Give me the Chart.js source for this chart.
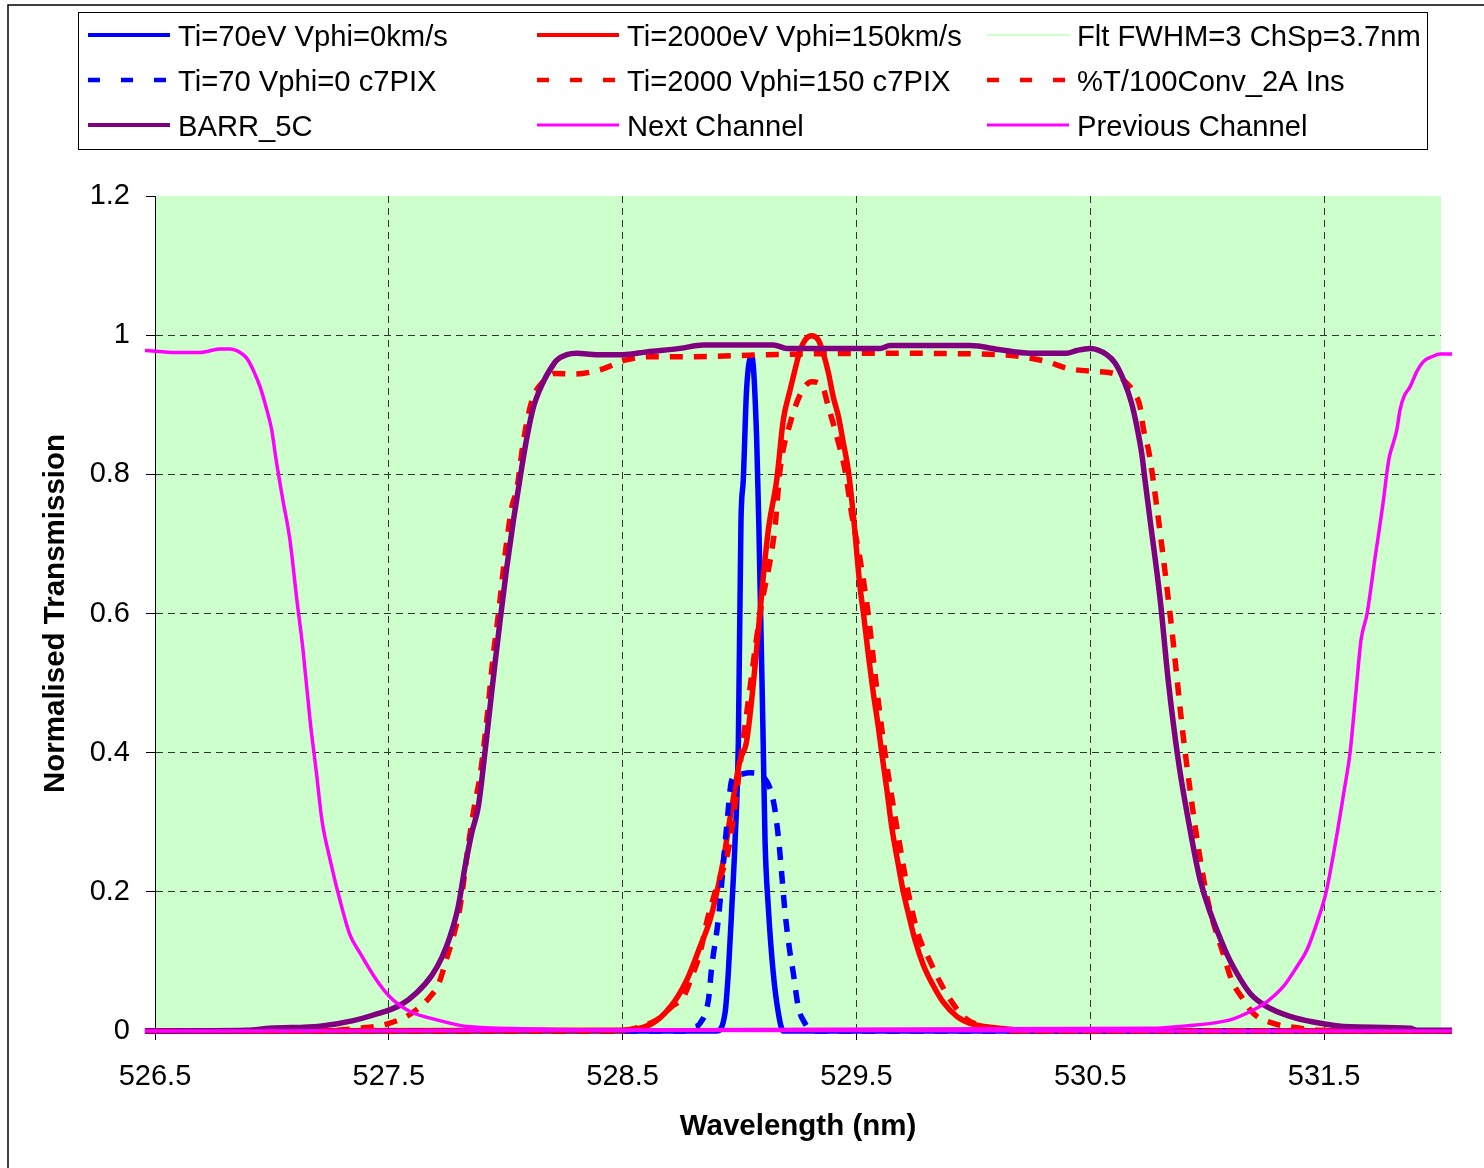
<!DOCTYPE html>
<html><head><meta charset="utf-8">
<script src="https://cdn.jsdelivr.net/npm/chart.js@4"></script>
<style>html,body{margin:0;padding:0;background:#fff;}canvas{display:block;}</style>
</head><body>
<canvas id="c" width="1484" height="1168"></canvas>
<script>
// ---------- data (wavelength nm, normalised transmission) ----------
const xTicks = [526.5, 527.5, 528.5, 529.5, 530.5, 531.5];
const yTicks = [0, 0.2, 0.4, 0.6, 0.8, 1.0, 1.2];

const ti70X = [526.457, 528.902, 528.938, 528.952, 528.967, 528.981, 528.995, 529.006, 529.016, 529.030, 529.052, 529.073, 529.083, 529.101, 529.109, 529.123, 529.144, 529.166, 529.187, 532.047];
const ti70Y = [0, 0, 0.026, 0.084, 0.178, 0.274, 0.417, 0.730, 0.792, 0.921, 0.970, 0.854, 0.720, 0.417, 0.274, 0.178, 0.084, 0.026, 0, 0];

const ti2000X = [526.457, 528.468, 528.617, 528.703, 528.774, 528.831, 528.874, 528.902, 528.931, 528.967, 529.002, 529.031, 529.123, 529.159, 529.187, 529.216, 529.237, 529.259, 529.280, 529.309, 529.337, 529.358, 529.380, 529.401, 529.423, 529.444, 529.465, 529.487, 529.515, 529.530, 529.551, 529.572, 529.594, 529.608, 529.630, 529.651, 529.679, 529.701, 529.722, 529.751, 529.786, 529.829, 529.872, 529.929, 529.986, 530.057, 530.143, 530.243, 532.047];
const ti2000Y = [0, 0.001, 0.009, 0.034, 0.073, 0.121, 0.160, 0.198, 0.246, 0.322, 0.389, 0.418, 0.720, 0.792, 0.878, 0.921, 0.950, 0.978, 0.993, 0.999, 0.993, 0.974, 0.946, 0.911, 0.883, 0.845, 0.806, 0.740, 0.639, 0.600, 0.540, 0.486, 0.436, 0.400, 0.347, 0.293, 0.239, 0.199, 0.169, 0.130, 0.095, 0.065, 0.041, 0.021, 0.011, 0.006, 0.003, 0, 0];

const fltX = [];
const fltY = [];

const ti70PixX = [526.457, 528.780, 528.802, 528.831, 528.867, 528.881, 528.909, 528.945, 528.967, 528.995, 529.045, 529.102, 529.145, 529.166, 529.180, 529.195, 529.216, 529.230, 529.251, 529.280, 529.310, 532.047];
const ti70PixY = [0, 0, 0.005, 0.011, 0.045, 0.092, 0.160, 0.294, 0.361, 0.368, 0.371, 0.365, 0.330, 0.279, 0.227, 0.169, 0.112, 0.083, 0.035, 0.011, 0, 0];

const ti2000PixX = [526.457, 528.450, 528.646, 528.710, 528.760, 528.796, 528.831, 528.860, 528.902, 528.952, 529.024, 529.088, 529.152, 529.173, 529.216, 529.266, 529.309, 529.352, 529.380, 529.416, 529.451, 529.481, 529.515, 529.550, 529.584, 529.622, 529.669, 529.721, 529.763, 529.815, 529.858, 529.892, 529.956, 530.016, 530.084, 530.157, 532.047];
const ti2000PixY = [0, 0, 0.016, 0.035, 0.049, 0.078, 0.112, 0.157, 0.207, 0.260, 0.440, 0.600, 0.725, 0.806, 0.873, 0.919, 0.933, 0.928, 0.897, 0.854, 0.806, 0.740, 0.679, 0.600, 0.500, 0.400, 0.300, 0.200, 0.140, 0.100, 0.070, 0.050, 0.021, 0.009, 0.003, 0, 0];

const convX = [526.457, 527.177, 527.377, 527.491, 527.591, 527.676, 527.712, 527.748, 527.776, 527.805, 527.840, 527.869, 527.890, 527.919, 527.947, 527.968, 527.997, 528.026, 528.047, 528.075, 528.104, 528.125, 528.154, 528.211, 528.289, 528.411, 528.510, 528.610, 528.788, 529.116, 529.601, 530.114, 530.207, 530.314, 530.406, 530.513, 530.599, 530.656, 530.684, 530.713, 530.727, 530.749, 530.763, 530.841, 530.906, 530.995, 531.077, 531.105, 531.155, 531.198, 531.283, 531.397, 531.469, 532.047];
const convY = [0, 0, 0.004, 0.010, 0.024, 0.049, 0.067, 0.105, 0.136, 0.179, 0.267, 0.329, 0.366, 0.447, 0.541, 0.597, 0.684, 0.753, 0.778, 0.846, 0.896, 0.917, 0.931, 0.945, 0.944, 0.951, 0.964, 0.969, 0.969, 0.972, 0.974, 0.972, 0.969, 0.962, 0.952, 0.948, 0.945, 0.931, 0.919, 0.897, 0.866, 0.835, 0.806, 0.600, 0.400, 0.200, 0.102, 0.073, 0.045, 0.025, 0.011, 0.004, 0.001, 0];

const barrX = [526.457, 526.892, 526.992, 527.206, 527.348, 527.434, 527.548, 527.619, 527.684, 527.726, 527.762, 527.797, 527.826, 527.855, 527.883, 527.911, 527.933, 527.954, 527.976, 528.004, 528.033, 528.068, 528.090, 528.118, 528.161, 528.204, 528.218, 528.261, 528.304, 528.389, 528.503, 528.603, 528.746, 528.845, 529.145, 529.202, 529.601, 529.644, 529.986, 530.114, 530.243, 530.399, 530.442, 530.499, 530.571, 530.606, 530.642, 530.677, 530.699, 530.720, 530.734, 530.756, 530.799, 530.833, 530.876, 530.927, 530.970, 531.077, 531.127, 531.184, 531.255, 531.355, 531.454, 531.611, 531.868, 531.897, 532.047];
const barrY = [0, 0.001, 0.004, 0.007, 0.015, 0.023, 0.037, 0.055, 0.080, 0.105, 0.136, 0.179, 0.236, 0.285, 0.323, 0.400, 0.466, 0.528, 0.590, 0.665, 0.734, 0.809, 0.852, 0.896, 0.933, 0.958, 0.964, 0.972, 0.974, 0.972, 0.972, 0.976, 0.981, 0.986, 0.986, 0.981, 0.981, 0.985, 0.985, 0.979, 0.974, 0.974, 0.978, 0.981, 0.972, 0.960, 0.936, 0.902, 0.869, 0.830, 0.792, 0.734, 0.620, 0.505, 0.390, 0.289, 0.217, 0.116, 0.083, 0.054, 0.035, 0.021, 0.013, 0.006, 0.004, 0.001, 0.001];

const nextX = [526.457, 526.593, 526.692, 526.728, 526.778, 526.821, 526.864, 526.892, 526.920, 526.949, 526.978, 526.999, 527.018, 527.047, 527.077, 527.107, 527.133, 527.163, 527.189, 527.214, 527.249, 527.291, 527.334, 527.370, 527.448, 527.505, 527.591, 527.705, 527.847, 528.147, 528.403, 532.047];
const nextY = [0.978, 0.975, 0.975, 0.977, 0.980, 0.980, 0.975, 0.967, 0.950, 0.926, 0.893, 0.864, 0.821, 0.763, 0.706, 0.619, 0.548, 0.447, 0.375, 0.303, 0.246, 0.188, 0.138, 0.116, 0.073, 0.049, 0.028, 0.016, 0.006, 0.003, 0.001, 0];

const prevX = [526.457, 530.756, 530.898, 531.098, 531.184, 531.255, 531.326, 531.383, 531.426, 531.474, 531.509, 531.551, 531.586, 531.611, 531.637, 531.658, 531.684, 531.718, 531.754, 531.768, 531.779, 531.796, 531.811, 531.825, 531.842, 531.868, 531.897, 531.925, 531.961, 531.997, 532.047];
const prevY = [0, 0.004, 0.007, 0.016, 0.028, 0.042, 0.064, 0.092, 0.116, 0.160, 0.200, 0.275, 0.346, 0.400, 0.490, 0.562, 0.600, 0.680, 0.763, 0.801, 0.825, 0.845, 0.864, 0.893, 0.912, 0.926, 0.948, 0.962, 0.969, 0.973, 0.973];

// ---------- helpers ----------
const pts = (xs, ys) => xs.map((x, i) => ({x: x, y: ys[i]}));
const FONT = "'Liberation Sans', Arial, sans-serif";
Chart.defaults.font.family = FONT;
Chart.defaults.color = '#000';

const DASH = [13, 11];
function series(label, xs, ys, color, width, dashed, legendWidth) {
  return {
    label: label, data: pts(xs, ys), borderColor: color, backgroundColor: color,
    borderWidth: width, borderDash: dashed ? DASH : [], pointRadius: 0, pointHoverRadius: 0,
    fill: false, tension: 0, cubicInterpolationMode: 'monotone', clip: false,
    borderCapStyle: 'butt', borderJoinStyle: 'round', legendWidth: legendWidth
  };
}

const datasets = [
  series('Ti=70eV Vphi=0km/s', ti70X, ti70Y, '#0000FF', 5.5, false, 4),
  series('Ti=2000eV Vphi=150km/s', ti2000X, ti2000Y, '#FF0000', 5.5, false, 4),
  series('Flt FWHM=3 ChSp=3.7nm', fltX, fltY, '#CCFFCC', 2, false, 2),
  series('Ti=70 Vphi=0 c7PIX', ti70PixX, ti70PixY, '#0000FF', 5.5, true, 4.5),
  series('Ti=2000 Vphi=150 c7PIX', ti2000PixX, ti2000PixY, '#FF0000', 5.5, true, 4.5),
  series('%T/100Conv_2A Ins', convX, convY, '#FF0000', 5.5, true, 4.5),
  series('BARR_5C', barrX, barrY, '#800080', 5.5, false, 4),
  series('Next Channel', nextX, nextY, '#FF00FF', 3.5, false, 3),
  series('Previous Channel', prevX, prevY, '#FF00FF', 3.5, false, 3)
];
// Excel draws later series on top
datasets.forEach((d, i) => { d.order = datasets.length - i; });

const bgPlugin = {
  id: 'bg',
  beforeDraw(chart) {
    const {ctx, chartArea: a} = chart;
    ctx.save();
    ctx.fillStyle = '#CCFFCC';
    ctx.fillRect(a.left, a.top, a.right - a.left, a.bottom - a.top);
    ctx.strokeStyle = '#000';
    ctx.lineWidth = 1.5;
    ctx.beginPath();
    ctx.moveTo(8, 1168); ctx.lineTo(8, 5); ctx.lineTo(1484, 5);
    ctx.stroke();
    ctx.restore();
  }
};

const legendCols = [88, 537, 987];
const legendRows = [35, 80, 125];
const legendPlugin = {
  id: 'boxLegend',
  afterDraw(chart) {
    const ctx = chart.ctx;
    ctx.save();
    ctx.fillStyle = '#fff';
    ctx.fillRect(78, 12, 1349, 137);
    ctx.strokeStyle = '#000';
    ctx.lineWidth = 1;
    ctx.strokeRect(78.5, 12.5, 1349, 137);
    chart.data.datasets.forEach((ds, i) => {
      const x0 = legendCols[i % 3], y0 = legendRows[Math.floor(i / 3)];
      ctx.beginPath();
      ctx.setLineDash(ds.borderDash.length ? [12, 21] : []);
      ctx.lineCap = 'butt';
      ctx.lineWidth = ds.legendWidth;
      ctx.strokeStyle = ds.borderColor;
      ctx.moveTo(x0, y0); ctx.lineTo(x0 + 82, y0);
      ctx.stroke();
      ctx.setLineDash([]);
      ctx.fillStyle = '#000';
      ctx.font = '29.2px ' + FONT;
      ctx.textBaseline = 'alphabetic';
      ctx.textAlign = 'left';
      ctx.fillText(ds.label, x0 + 90, y0 + 11);
    });
    ctx.restore();
  }
};

new Chart(document.getElementById('c'), {
  type: 'line',
  data: {datasets: datasets},
  plugins: [bgPlugin, legendPlugin],
  options: {
    responsive: false, animation: false, devicePixelRatio: 1,
    layout: {padding: {top: 196, left: 30, right: 43, bottom: 13}},
    plugins: {legend: {display: false}, tooltip: {enabled: false}},
    interaction: {mode: null},
    scales: {
      x: {
        type: 'linear', min: 526.5, max: 532.0,
        afterBuildTicks: s => { s.ticks = xTicks.map(v => ({value: v})); },
        afterFit: s => { s.height = 124; },
        ticks: {font: {size: 29}, color: '#000', padding: 20, maxRotation: 0,
                callback: v => v.toFixed(1)},
        grid: {color: c => (c.tick && c.tick.value === 526.5) ? 'rgba(0,0,0,0)' : '#333',
               lineWidth: 1, tickLength: 9, tickColor: '#000', tickWidth: 1, drawTicks: true},
        border: {display: true, color: '#000', width: 1, dash: [7, 5]},
        title: {display: true, text: 'Wavelength (nm)', font: {size: 29.5, weight: 'bold'}, color: '#000', padding: {top: 0, bottom: 10}}
      },
      y: {
        type: 'linear', min: 0, max: 1.2,
        afterBuildTicks: s => { s.ticks = yTicks.map(v => ({value: v})); },
        afterFit: s => { s.width = 125; },
        ticks: {font: {size: 29}, color: '#000', padding: 16,
                callback: v => String(+Number(v).toFixed(1))},
        grid: {color: c => (c.tick && (c.tick.value === 0 || c.tick.value === 1.2)) ? 'rgba(0,0,0,0)' : '#333',
               lineWidth: 1, tickLength: 9, tickColor: '#000', tickWidth: 1, drawTicks: true},
        border: {display: true, color: '#000', width: 1, dash: [7, 5]},
        title: {display: true, text: 'Normalised Transmission', font: {size: 29.5, weight: 'bold'}, color: '#000', padding: {top: 8, bottom: 0}}
      }
    }
  }
});
</script>
</body></html>
